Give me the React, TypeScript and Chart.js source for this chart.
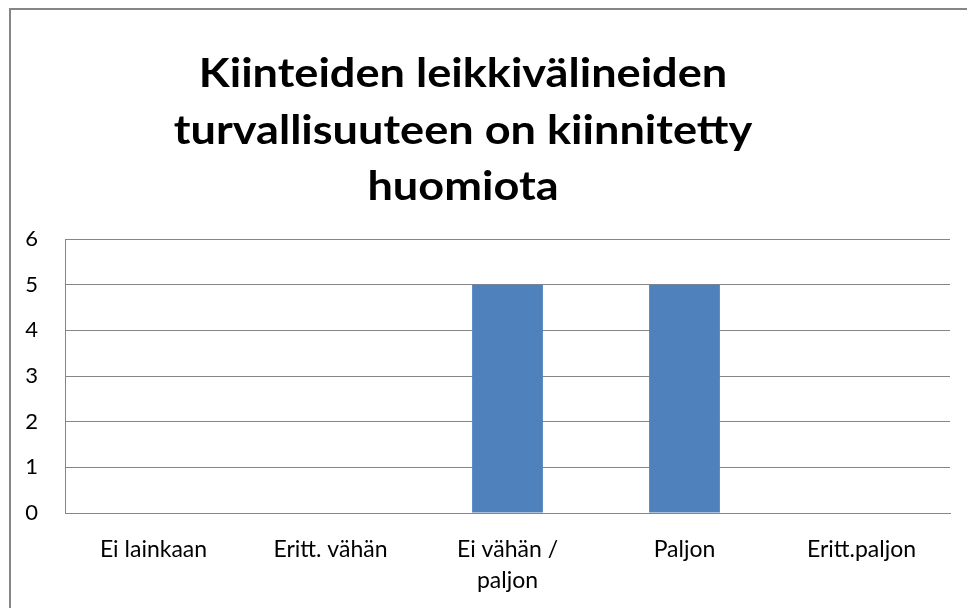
import React, { useEffect, useRef } from "react";
import { Chart, registerables } from "chart.js";

Chart.register(...registerables);

const titleLines = ["Kiinteiden leikkivälineiden", "turvallisuuteen on kiinnitetty", "huomiota"];
const categories: (string | string[])[] = ["Ei lainkaan", "Eritt. vähän", ["Ei vähän /", "paljon"], "Paljon", "Eritt.paljon"];
const values = [0, 0, 5, 5, 0];
const yTicks = [0, 1, 2, 3, 4, 5, 6];

const GRID = "#868686";
const FONT = "Lato, 'Open Sans', sans-serif";

const framePlugin = {
  id: "frameAndTitle",
  beforeDraw(chart: any) {
    const ctx = chart.ctx;
    ctx.save();
    ctx.fillStyle = "#ffffff";
    ctx.fillRect(0, 0, chart.width, chart.height);
    ctx.strokeStyle = GRID;
    ctx.lineWidth = 2;
    ctx.beginPath();
    ctx.moveTo(10, chart.height + 10);
    ctx.lineTo(10, 9);
    ctx.lineTo(chart.width + 10, 9);
    ctx.stroke();
    ctx.restore();
  },
  afterDraw(chart: any) {
    const ctx = chart.ctx;
    ctx.fillStyle = "#000000";
    ctx.font = `bold 41px ${FONT}`;
    ctx.textAlign = "center";
    ctx.textBaseline = "alphabetic";
    const cx = 463;
    titleLines.forEach((t, i) => {
      ctx.save();
      ctx.translate(cx, 87 + i * 56.5);
      ctx.scale(1.1, 1);
      ctx.fillText(t, 0, 0);
      ctx.restore();
    });
  },
};

export default function App() {
  const ref = useRef<HTMLCanvasElement>(null);
  useEffect(() => {
    if (!ref.current) return;
    const chart = new Chart(ref.current, {
      type: "bar",
      data: {
        labels: categories,
        datasets: [
          {
            data: values,
            backgroundColor: "#4F81BD",
            borderWidth: 0,
            barPercentage: 0.4,
            categoryPercentage: 1,
          },
        ],
      },
      options: {
        responsive: false,
        animation: false,
        devicePixelRatio: 1,
        layout: { padding: { top: 239, right: 17, left: 0, bottom: 0 } },
        plugins: { legend: { display: false }, title: { display: false }, tooltip: { enabled: false } },
        scales: {
          x: {
            grid: { display: false, drawTicks: false },
            border: { display: true, color: GRID, width: 1 },
            ticks: {
              color: "#000",
              font: { family: FONT, size: 23, lineHeight: 1.35 },
              padding: 21,
              maxRotation: 0,
              autoSkip: false,
            },
            afterFit: (s: any) => {
              s.height = 95;
            },
          },
          y: {
            min: 0,
            max: 6,
            afterBuildTicks: (s: any) => {
              s.ticks = yTicks.map((v) => ({ value: v }));
            },
            grid: { color: GRID, lineWidth: 1, drawTicks: false },
            border: { display: true, color: GRID, width: 1 },
            ticks: {
              color: "#000",
              font: { family: FONT, size: 22 },
              padding: 27,
            },
            afterFit: (s: any) => {
              s.width = 65;
            },
          },
        },
      },
      plugins: [framePlugin],
    });
    return () => chart.destroy();
  }, []);
  return (
    <div style={{ position: "fixed", left: 0, top: 0, width: 967, height: 608, background: "#fff" }}>
      <canvas ref={ref} width={967} height={608} style={{ width: 967, height: 608, display: "block" }} />
    </div>
  );
}
